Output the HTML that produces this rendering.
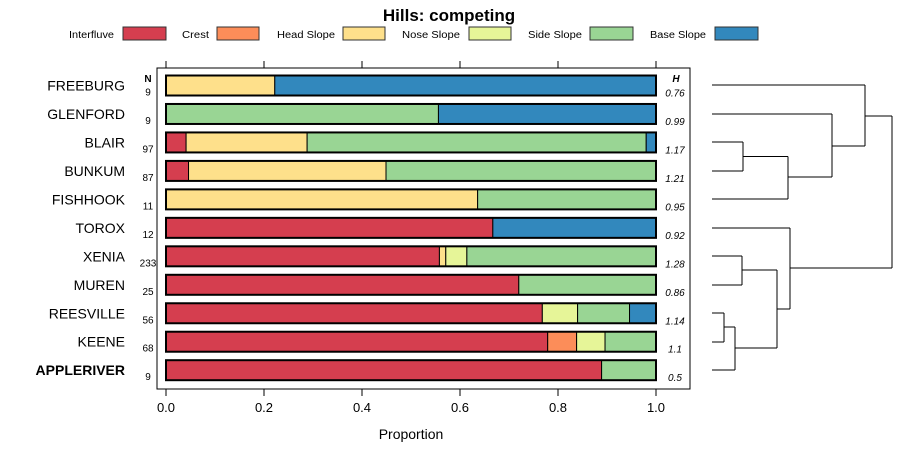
<!DOCTYPE html>
<html><head><meta charset="utf-8"><style>
body{margin:0;background:#fff;font-family:"Liberation Sans",sans-serif}
</style></head><body>
<svg id="c" width="900" height="460" xmlns="http://www.w3.org/2000/svg" font-family="Liberation Sans, sans-serif">
<text x="449" y="21" text-anchor="middle" font-size="17" font-weight="bold">Hills: competing</text>
<g id="legend"></g>
<rect x="157" y="68" width="533" height="321" fill="none" stroke="#000"/>
<g id="axes"></g>
<g id="bars"></g>
<g id="dendro" stroke="#000" fill="none" stroke-width="1"></g>
<text x="411" y="439" text-anchor="middle" font-size="14">Proportion</text>
<text x="148" y="82" text-anchor="middle" font-size="10" font-weight="bold">N</text>
<text x="676" y="82" text-anchor="middle" font-size="10" font-weight="bold" font-style="italic">H</text>
</svg>
<script>
const categories=["FREEBURG","GLENFORD","BLAIR","BUNKUM","FISHHOOK","TOROX","XENIA","MUREN","REESVILLE","KEENE","APPLERIVER"];
const classes=["Interfluve","Crest","Head Slope","Nose Slope","Side Slope","Base Slope"];
const interfluve=[0,0,0.041,0.046,0,0.667,0.558,0.72,0.768,0.779,0.889];
const crest=[0,0,0,0,0,0,0,0,0,0.059,0];
const headSlope=[0.222,0,0.247,0.403,0.636,0,0.013,0,0,0,0];
const noseSlope=[0,0,0,0,0,0,0.043,0,0.072,0.058,0];
const sideSlope=[0,0.556,0.692,0.551,0.364,0,0.386,0.28,0.106,0.104,0.111];
const baseSlope=[0.778,0.444,0.02,0,0,0.333,0,0,0.054,0,0];
const nValues=[9,9,97,87,11,12,233,25,56,68,9];
const hValues=["0.76","0.99","1.17","1.21","0.95","0.92","1.28","0.86","1.14","1.1","0.5"];
const ticks=[0,0.2,0.4,0.6,0.8,1.0];
const tickLabels=["0.0","0.2","0.4","0.6","0.8","1.0"];
const colors=["#D53E4F","#FC8D59","#FEE08B","#E6F598","#99D594","#3288BD"];
const NS="http://www.w3.org/2000/svg";
const X=v=>166+v*490;
const Y=i=>85.5+i*28.47;
function mk(t,a,p){const e=document.createElementNS(NS,t);for(const k in a)e.setAttribute(k,a[k]);p.appendChild(e);return e;}
const series=[interfluve,crest,headSlope,noseSlope,sideSlope,baseSlope];
const bars=document.getElementById('bars');
categories.forEach((c,i)=>{
  let acc=0;
  series.forEach((s,j)=>{
    const v=s[i];if(v<=0)return;
    const r=mk('rect',{x:X(acc),y:Y(i)-10,width:X(acc+v)-X(acc),height:20,fill:colors[j],stroke:'#000','stroke-width':1},bars);
    
    
    acc+=v;
  });
  const o=mk('rect',{x:X(0),y:Y(i)-10,width:X(1)-X(0),height:20,fill:'none',stroke:'#000','stroke-width':2},bars);
  
  
  const l=mk('text',{x:125,y:Y(i)+5,'text-anchor':'end','font-size':14,'font-weight':i==10?'bold':'normal'},bars);
  l.textContent=c;
  
  
  const n=mk('text',{x:148,y:Y(i)+10,'text-anchor':'middle','font-size':10},bars);
  n.textContent=nValues[i];
  
  
  const h=mk('text',{x:675,y:Y(i)+11,'text-anchor':'middle','font-size':10,'font-style':'italic'},bars);
  h.textContent=hValues[i];
  
  
});
const ax=document.getElementById('axes');
ticks.forEach((t,i)=>{
  mk('line',{x1:X(t),x2:X(t),y1:61,y2:68,stroke:'#000'},ax);
  mk('line',{x1:X(t),x2:X(t),y1:389,y2:396,stroke:'#000'},ax);
  const tl=mk('text',{x:X(t),y:412,'text-anchor':'middle','font-size':13},ax);
  tl.textContent=tickLabels[i];
  
  
});
const lg=document.getElementById('legend');
const lgText=[69,182,277,402,528,650];const lgBox=[123,217,343,469,590,715];const lgW=[43,42,42,42,43,43];
classes.forEach((c,j)=>{
  const t=mk('text',{x:lgText[j],y:38,'text-anchor':'start','font-size':10,'textLength':[45,27,58,58,54,56][j],'lengthAdjust':'spacingAndGlyphs'},lg);
  t.textContent=c;
  
  
  const r=mk('rect',{x:lgBox[j],y:27,width:lgW[j],height:13,fill:colors[j],stroke:'#333'},lg);
  
  
});
const d=document.getElementById('dendro');
const segs=[[712,85,865],[712,114,832],[712,142,743],[712,171,743],[712,199,788],[743,142,743,171],[743,156.5,788],[788,156.5,788,199],[788,177,832],[832,114,832,177],[832,146,865],[865,85,865,146],[865,116,892],
[712,228,790],[712,256,742],[712,285,742],[742,256,742,285],[742,270,777],[712,313,724],[712,342,724],[724,313,724,342],[724,327,735],[712,370,735],[735,327,735,370],[735,348,777],[777,270,777,348],[777,309,790],[790,228,790,309],[790,268,892],[892,116,892,268]];
segs.forEach(s=>{const p=s.length==3?[s[0],s[1],s[2],s[1]]:s;mk('line',{x1:p[0],y1:p[1],x2:p[2],y2:p[3]},d);});
</script>
</body></html>
